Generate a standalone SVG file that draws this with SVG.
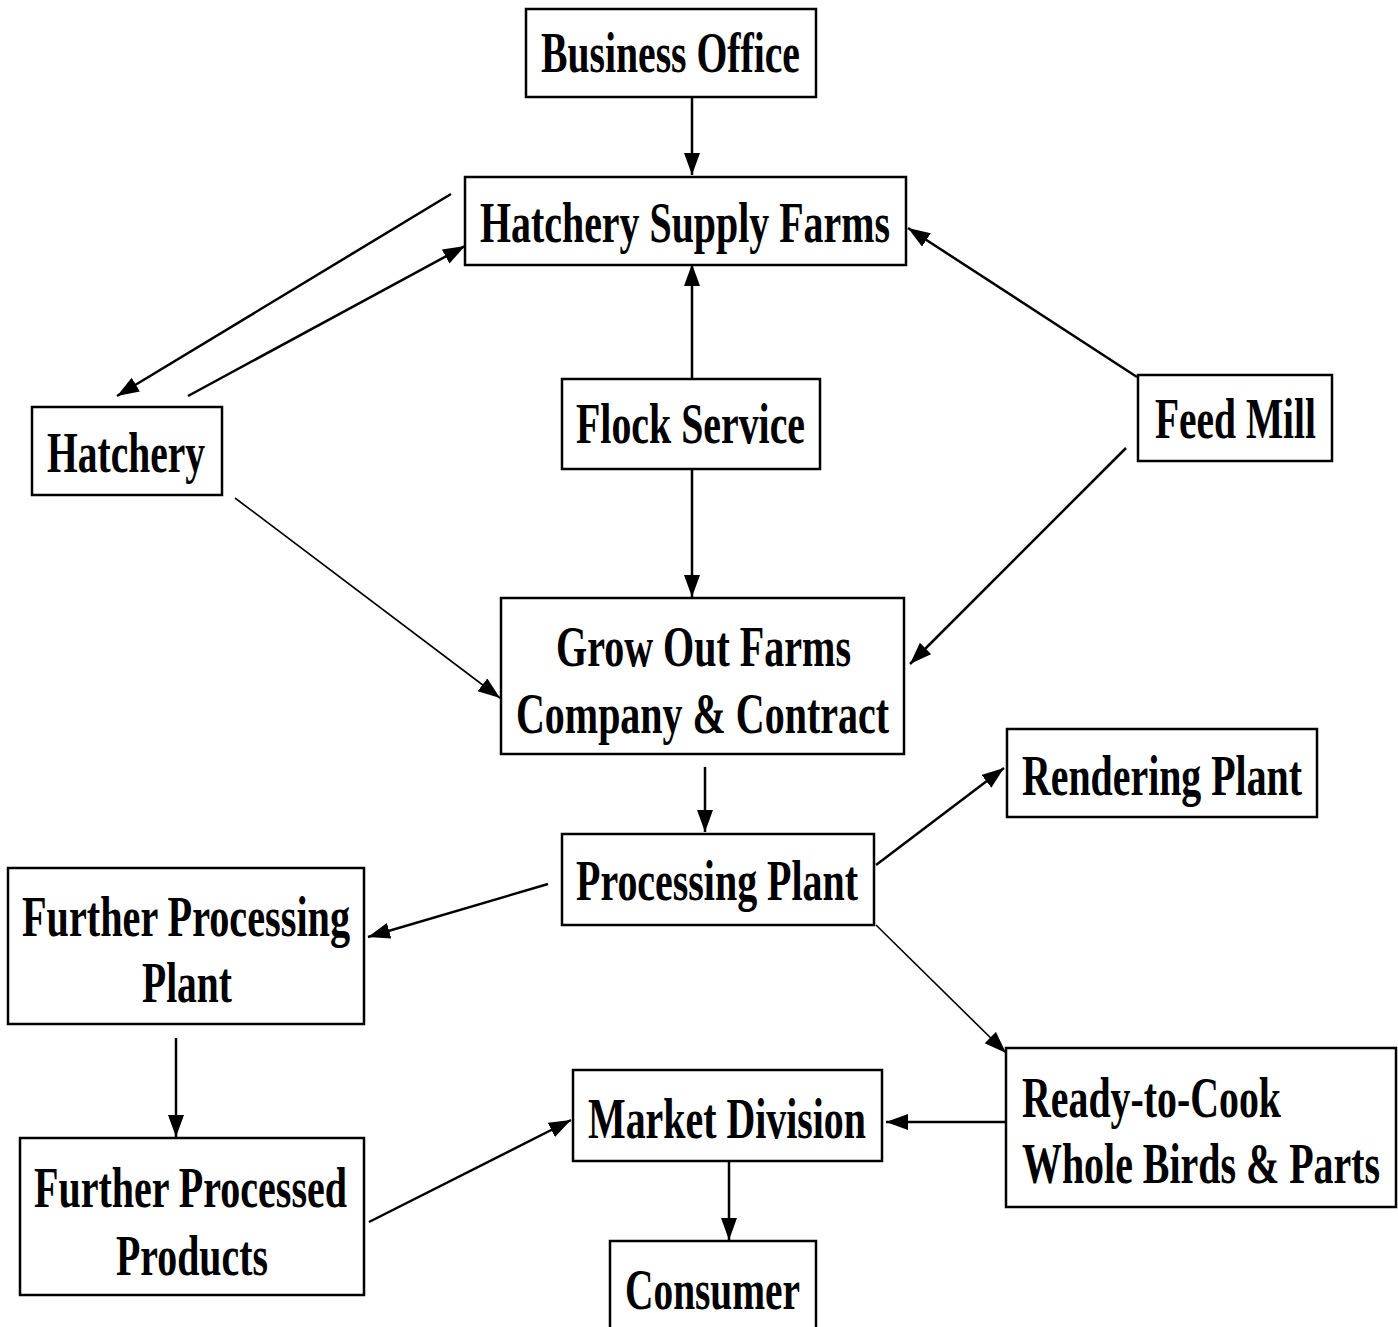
<svg xmlns="http://www.w3.org/2000/svg" width="1398" height="1327" viewBox="0 0 1398 1327">
<style>
.box{fill:#fff;stroke:#000;stroke-width:2.5}
.t{font-family:"Liberation Serif","Times New Roman",serif;font-weight:bold;font-size:56px;fill:#000}
.c{fill:none;stroke:#000;stroke-width:2.5}
.thin{stroke-width:1.6}
</style>
<defs>
<marker id="ah" markerUnits="userSpaceOnUse" markerWidth="24" markerHeight="18" refX="22" refY="8" orient="auto" viewBox="0 0 24 18">
<path d="M0,0 L22,8 L0,16 z" fill="#000"/>
</marker>
</defs>
<rect width="1398" height="1327" fill="#fff"/>
<g id="connectors">
<line class="c" x1="692" y1="95" x2="692" y2="175" marker-end="url(#ah)"/>
<line class="c" x1="451" y1="194" x2="117" y2="396" marker-end="url(#ah)"/>
<line class="c" x1="188" y1="396" x2="465" y2="246" marker-end="url(#ah)"/>
<line class="c" x1="692" y1="378" x2="692" y2="264" marker-end="url(#ah)"/>
<line class="c" x1="1137" y1="377" x2="908" y2="228" marker-end="url(#ah)"/>
<line class="c" x1="692" y1="465" x2="692" y2="597" marker-end="url(#ah)"/>
<line class="c" x1="1126" y1="448" x2="910" y2="664" marker-end="url(#ah)"/>
<line class="c thin" x1="235" y1="498" x2="500" y2="698" marker-end="url(#ah)"/>
<line class="c" x1="705" y1="767" x2="705" y2="832" marker-end="url(#ah)"/>
<line class="c" x1="876" y1="865" x2="1004" y2="768" marker-end="url(#ah)"/>
<line class="c" x1="548" y1="884" x2="368" y2="937" marker-end="url(#ah)"/>
<line class="c thin" x1="876" y1="925" x2="1006" y2="1053" marker-end="url(#ah)"/>
<line class="c" x1="176" y1="1038" x2="176" y2="1137" marker-end="url(#ah)"/>
<line class="c" x1="369" y1="1222" x2="571" y2="1120" marker-end="url(#ah)"/>
<line class="c" x1="1006" y1="1122" x2="886" y2="1122" marker-end="url(#ah)"/>
<line class="c" x1="729" y1="1156" x2="729" y2="1240" marker-end="url(#ah)"/>
</g>
<g id="business-office"><rect class="box" x="526" y="9" width="290" height="88"/><text class="t" transform="translate(541,72) scale(0.72,1)" textLength="359.7" lengthAdjust="spacingAndGlyphs">Business Office</text></g>
<g id="hatchery-supply-farms"><rect class="box" x="465" y="177" width="441" height="88"/><text class="t" transform="translate(480,242) scale(0.72,1)" textLength="569.4" lengthAdjust="spacingAndGlyphs">Hatchery Supply Farms</text></g>
<g id="hatchery"><rect class="box" x="32" y="407" width="190" height="88"/><text class="t" transform="translate(47,472) scale(0.72,1)" textLength="219.4" lengthAdjust="spacingAndGlyphs">Hatchery</text></g>
<g id="flock-service"><rect class="box" x="562" y="379" width="258" height="90"/><text class="t" transform="translate(576,443) scale(0.72,1)" textLength="318.1" lengthAdjust="spacingAndGlyphs">Flock Service</text></g>
<g id="feed-mill"><rect class="box" x="1138" y="375" width="194" height="86"/><text class="t" transform="translate(1155,438) scale(0.72,1)" textLength="223.6" lengthAdjust="spacingAndGlyphs">Feed Mill</text></g>
<g id="grow-out-farms"><rect class="box" x="501" y="598" width="403" height="156"/><text class="t" transform="translate(556,666) scale(0.72,1)" textLength="409.7" lengthAdjust="spacingAndGlyphs">Grow Out Farms</text><text class="t" transform="translate(516,733) scale(0.72,1)" textLength="518.1" lengthAdjust="spacingAndGlyphs">Company &amp; Contract</text></g>
<g id="rendering-plant"><rect class="box" x="1007" y="729" width="310" height="88"/><text class="t" transform="translate(1022,795) scale(0.72,1)" textLength="388.9" lengthAdjust="spacingAndGlyphs">Rendering Plant</text></g>
<g id="processing-plant"><rect class="box" x="562" y="834" width="312" height="91"/><text class="t" transform="translate(576,900) scale(0.72,1)" textLength="391.7" lengthAdjust="spacingAndGlyphs">Processing Plant</text></g>
<g id="further-processing-plant"><rect class="box" x="8" y="868" width="356" height="156"/><text class="t" transform="translate(22,936) scale(0.72,1)" textLength="455.6" lengthAdjust="spacingAndGlyphs">Further Processing</text><text class="t" transform="translate(142,1002) scale(0.72,1)" textLength="125" lengthAdjust="spacingAndGlyphs">Plant</text></g>
<g id="further-processed-products"><rect class="box" x="20" y="1138" width="344" height="157"/><text class="t" transform="translate(34,1207) scale(0.72,1)" textLength="434.7" lengthAdjust="spacingAndGlyphs">Further Processed</text><text class="t" transform="translate(116,1275) scale(0.72,1)" textLength="211.1" lengthAdjust="spacingAndGlyphs">Products</text></g>
<g id="market-division"><rect class="box" x="573" y="1070" width="309" height="91"/><text class="t" transform="translate(588,1138) scale(0.72,1)" textLength="386.1" lengthAdjust="spacingAndGlyphs">Market Division</text></g>
<g id="ready-to-cook"><rect class="box" x="1006" y="1048" width="390" height="159"/><text class="t" transform="translate(1022,1117) scale(0.72,1)" textLength="359.7" lengthAdjust="spacingAndGlyphs">Ready-to-Cook</text><text class="t" transform="translate(1022,1183) scale(0.72,1)" textLength="497.2" lengthAdjust="spacingAndGlyphs">Whole Birds &amp; Parts</text></g>
<g id="consumer"><rect class="box" x="610" y="1241" width="206" height="100"/><text class="t" transform="translate(625,1309) scale(0.72,1)" textLength="243.1" lengthAdjust="spacingAndGlyphs">Consumer</text></g>
</svg>
